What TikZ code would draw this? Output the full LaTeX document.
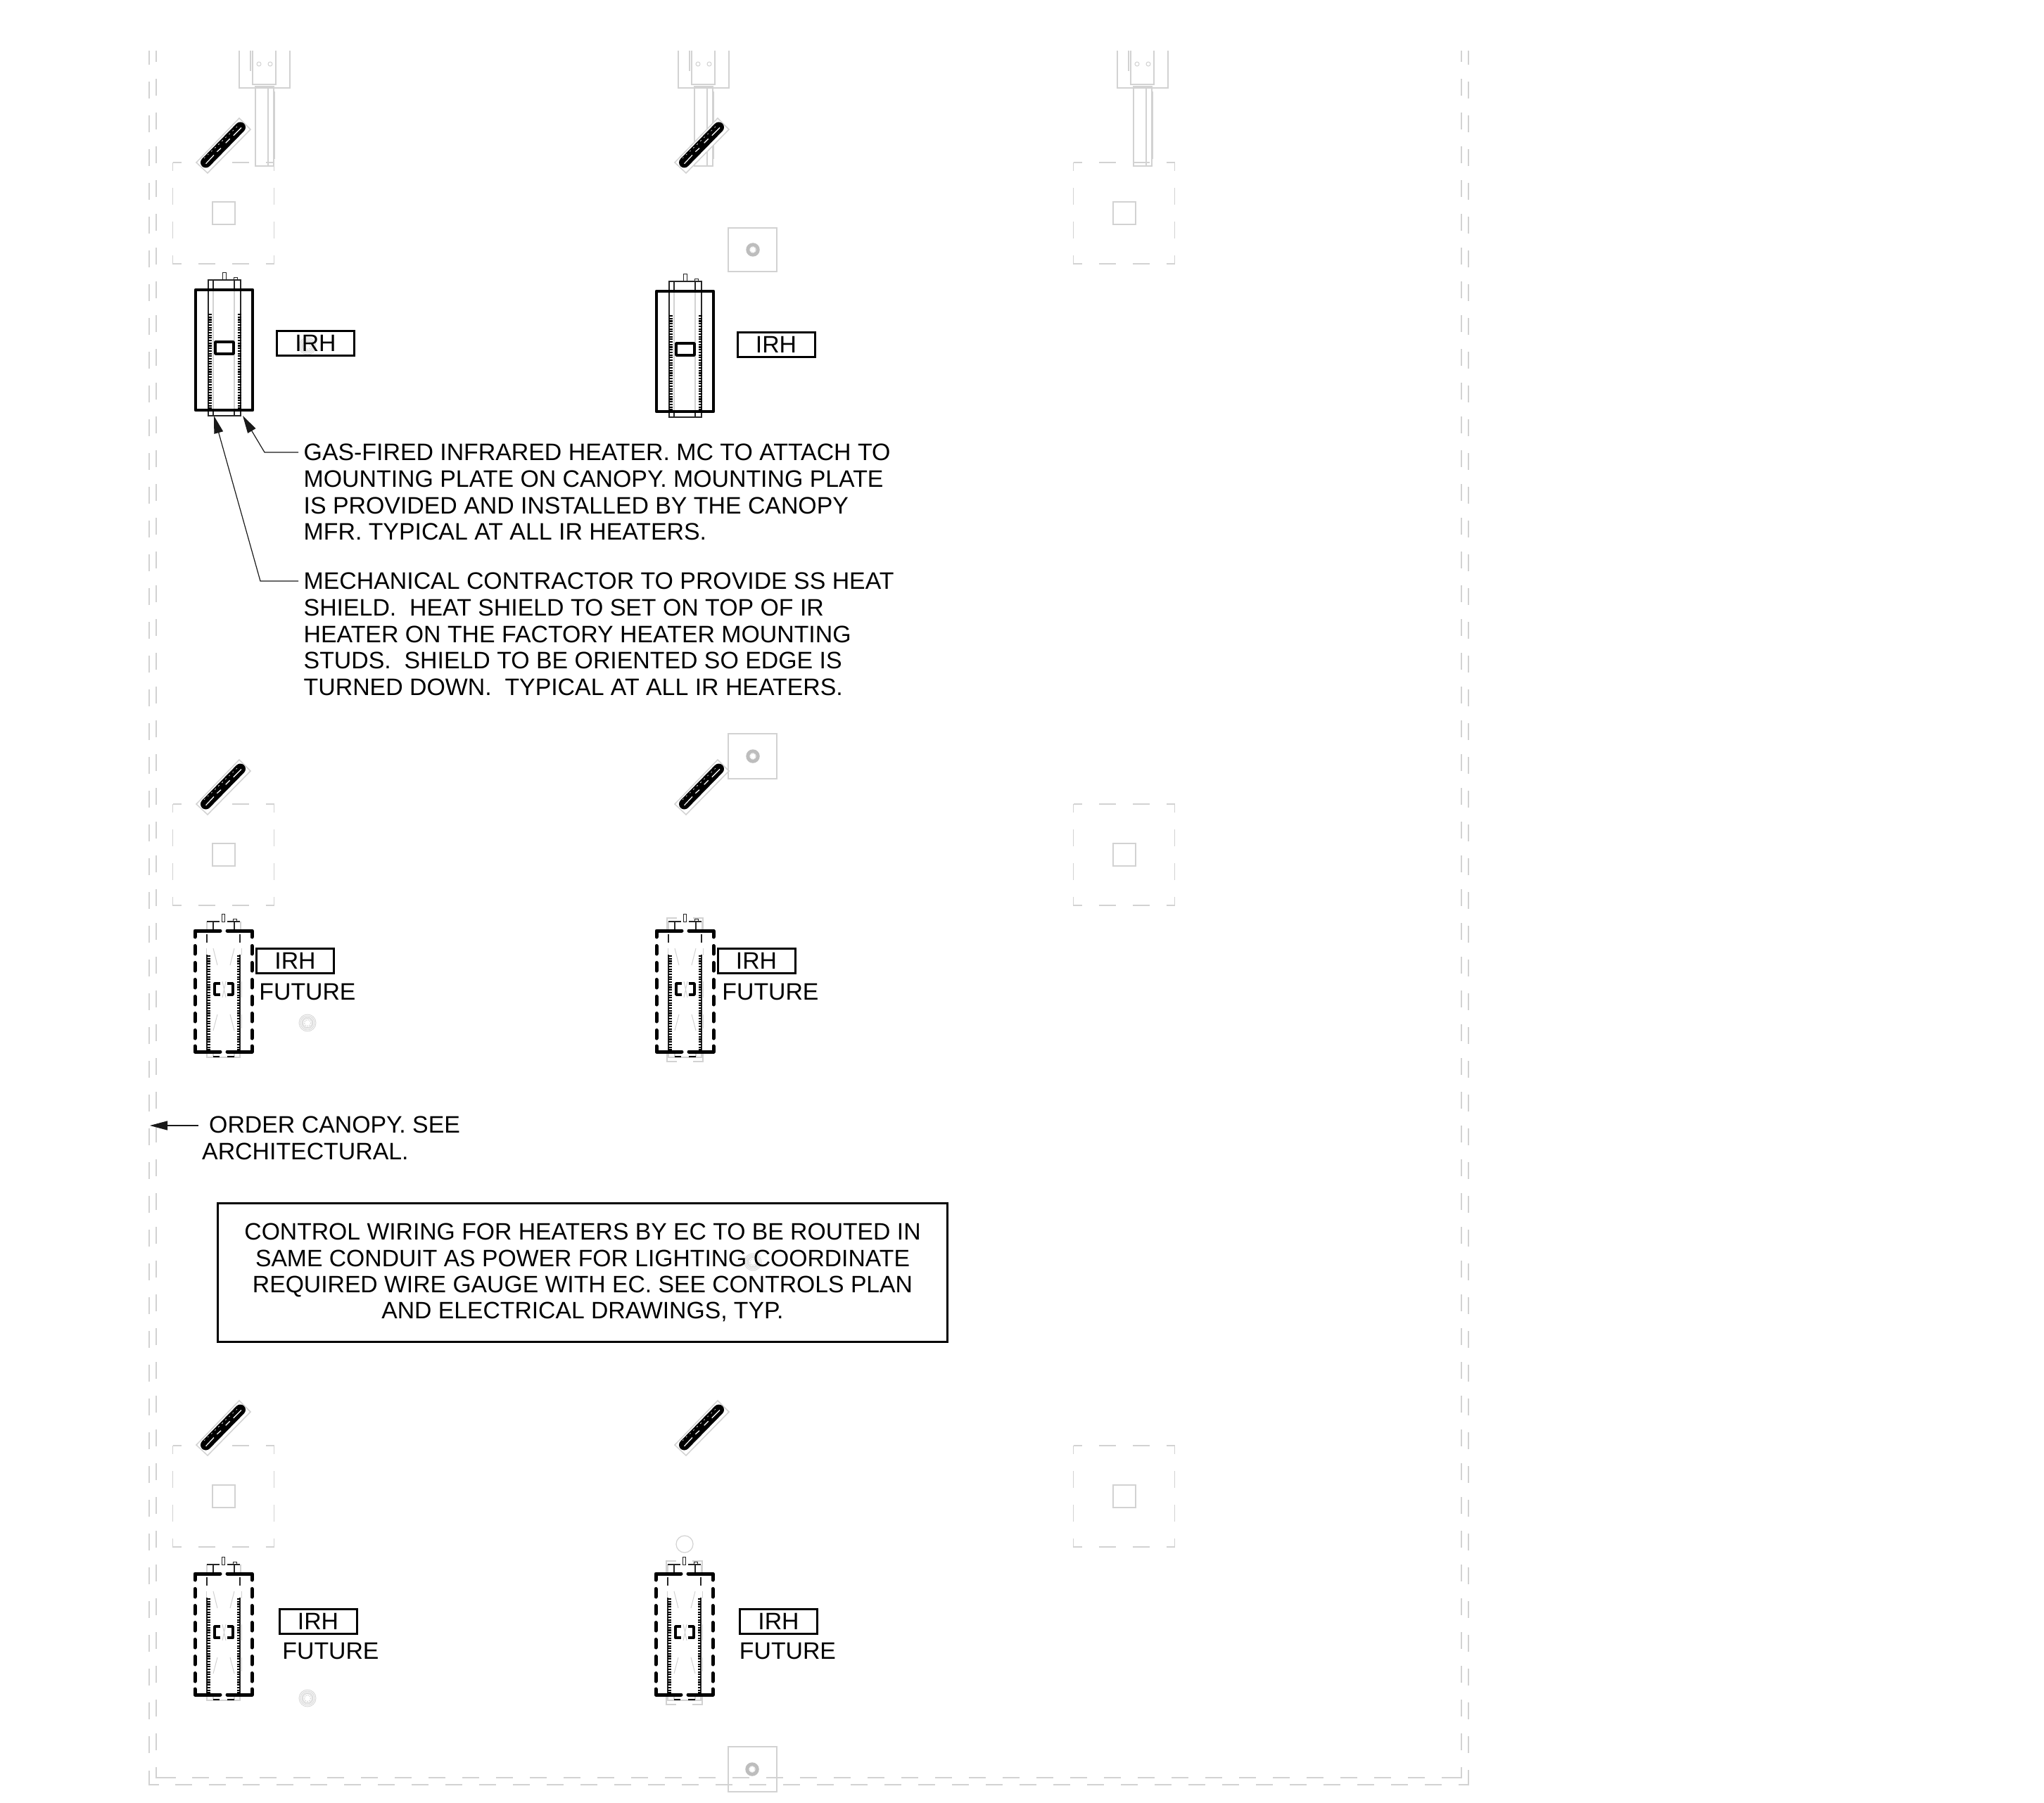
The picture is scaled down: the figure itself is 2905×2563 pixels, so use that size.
\documentclass[tikz,border=0pt]{standalone}
\usepackage{fontspec}
\setmainfont{Liberation Sans}
\usetikzlibrary{arrows.meta}
\definecolor{lg}{HTML}{D2D2D2}
\tikzset{
  x=1pt,y=-1pt,
  graythin/.style={draw=lg,line width=1.5pt},
  graydash/.style={draw=lg,line width=1.3pt,dash pattern=on 24pt off 24pt},
  piersq/.style={draw=lg,line width=1.3pt,dash pattern=on 24pt off 24pt,dash phase=12pt},
  innersq/.style={draw=lg,line width=2pt},
  heavy/.style={draw=black,line width=4.6pt,line join=round},
  heavydash/.style={draw=black,line width=5pt,line cap=round,line join=round},
  finebk/.style={draw=black!85,line width=1.1pt},
  hatchbk/.style={draw=black,line width=5pt,dash pattern=on 2.1pt off 1.6pt},
  leader/.style={draw=black!90,line width=1.2pt,-{Triangle[length=25pt,width=13pt]}},
  tagbox/.style={draw=black,line width=3pt,inner sep=0pt,minimum width=110pt,minimum height=35pt,font=\fontsize{33.8}{37.7}\selectfont},
  lbl/.style={inner sep=0pt,font=\fontsize{33.8}{37.7}\selectfont},
  noteblock/.style={inner sep=0pt,anchor=north west,align=left,font=\fontsize{33.85}{37.7}\selectfont},
  ctrblock/.style={inner sep=0pt,anchor=north,align=center,font=\fontsize{33.7}{37.4}\selectfont}
}
% slanted heater
\newcommand\slantheater[2]{\begin{scope}[shift={(#1,#2)}]
  \draw[graythin,fill=white] (279,231)--(340,168)--(356,184)--(295,246)--cycle;
  \draw[black,line width=15pt,line cap=round] (292.5,231)--(341.5,181);
  \draw[white,line width=1.2pt] (292.5,232.7)--(304,220.5) (308.3,215.7)--(314,210.7) (320.7,203.3)--(326.7,197.3) (331.7,192.7)--(343,181.5);
  \draw[white,line width=.6pt,dash pattern=on 2pt off 5pt] (290,225)--(338,179);
\end{scope}}
% canopy column at the top
\newcommand\topframe[1]{\begin{scope}[shift={(#1,0)}]
  \draw[graythin] (340,72)--(340,125)--(412,125)--(412,72);
  \draw[graythin] (359,72)--(359,120)--(392,120)--(392,72);
  \draw[graythin] (356,72)--(356,101);
  \draw[lg,line width=1pt] (368,91) circle (3) (384,91) circle (3);
  \draw[graythin] (363,123) rectangle (389,236);
  \draw[graythin] (381,123)--(381,236);
  \draw[graythin] (390,130)--(390,226);
\end{scope}}
% pier with dashed square
\newcommand\pier[2]{\begin{scope}[shift={(#1,#2)}]
  \draw[piersq] (245.5,231) rectangle (389.5,375);
  \draw[innersq] (302,287) rectangle (334,319);
\end{scope}}
% concentric grey target
\newcommand\bigtarget[2]{\begin{scope}[shift={(#1,#2)}]
  \foreach \r in {12,10,8,6.5}{\draw[lg,line width=.8pt] (0,0) circle (\r);}
  \draw[lg,line width=1pt,dash pattern=on 1.5pt off 1.5pt] (0,0) circle (4.5);
\end{scope}}
\newcommand\smalltarget[2]{\begin{scope}[shift={(#1,#2)}]
  \draw[lg!90!black,line width=5pt] (0,0) circle (7.2);
  \draw[lg,line width=.8pt,dash pattern=on 1.5pt off 1.5pt] (0,0) circle (4.2);
\end{scope}}
% solid heater
\newcommand\solidheater[2]{\begin{scope}[shift={(#1,#2)}]
  \draw[graythin] (303,398)--(303,591) (333,398)--(333,591);
  \draw[finebk] (296,398) rectangle (342,591);
  \draw[finebk] (303,398)--(303,412) (333,398)--(333,412) (303,583)--(303,591) (333,583)--(333,591);
  \draw[hatchbk] (298.5,446)--(298.5,582);
  \draw[hatchbk] (340,446)--(340,582);
  \draw[heavy] (278,412) rectangle (359,583);
  \draw[black,line width=3.5pt,line join=round] (306,486) rectangle (332,503);
  \draw[finebk,line width=.9pt] (316,387) rectangle (321,398);
  \draw[finebk,line width=.9pt] (332,394) rectangle (337,398);
\end{scope}}
% dashed (future) heater; #3 = grey outer corners
\newcommand\futureheater[3]{\begin{scope}[shift={(#1,#2)}]
  \draw[lg,line width=1pt] (303,1348)--(309,1372) (333,1348)--(327,1372) (303,1465)--(309,1442) (333,1465)--(327,1442)
     (316,1395)--(321,1418) (321,1395)--(316,1418);
  \draw[lg,line width=1pt] (343,1348)--(343,1358) (343,1395)--(343,1418) (343,1442)--(343,1462) (293,1348)--(293,1358) (293,1395)--(293,1418);
  \draw[lg,line width=1.2pt] (294,1310)--(294,1323) (342,1310)--(342,1323) (294,1495)--(294,1503)--(341,1503)--(341,1495) (303,1495)--(303,1503) (333,1495)--(333,1503);
  #3
  \draw[finebk] (294,1310)--(312,1310) (323,1310)--(341,1310);
  \draw[finebk] (303,1310)--(303,1323) (333,1310)--(333,1323);
  \draw[finebk] (294,1328)--(294,1340) (341,1328)--(341,1340);
  \draw[finebk] (294,1357)--(294,1493) (341,1357)--(341,1493);
  \draw[draw=black,line width=4.5pt,dash pattern=on 2.1pt off 1.6pt] (296.5,1358)--(296.5,1493);
  \draw[draw=black,line width=4.5pt,dash pattern=on 2.1pt off 1.6pt] (339,1358)--(339,1493);
  \draw[heavydash] (277,1332)--(277,1323)--(313,1323);
  \draw[heavydash] (323,1323)--(358,1323)--(358,1332);
  \draw[heavydash] (277,1487)--(277,1495)--(313,1495);
  \draw[heavydash] (323,1495)--(358,1495)--(358,1487);
  \draw[heavydash,dash pattern=on 11.5pt off 12.5pt] (277,1344.5)--(277,1478);
  \draw[heavydash,dash pattern=on 11.5pt off 12.5pt] (358,1344.5)--(358,1478);
  \draw[black,line width=3.8pt,line join=round] (313,1398)--(305,1398)--(305,1414)--(313,1414);
  \draw[black,line width=3.8pt,line join=round] (323,1398)--(331,1398)--(331,1414)--(323,1414);
  \draw[finebk,line width=.9pt] (315,1299) rectangle (319,1310);
  \draw[finebk,line width=.9pt] (331,1306) rectangle (336,1310);
  \draw[black,line width=1.6pt] (303,1502)--(312,1502) (323,1502)--(333,1502);
\end{scope}}
\newcommand\graycorners{\draw[lg,line width=1.3pt] (292,1323)--(292,1305)--(306,1305) (329,1305)--(343,1305)--(343,1323) (292,1495)--(292,1509)--(306,1509) (329,1509)--(343,1509)--(343,1495);}
\begin{document}
\begin{tikzpicture}
\useasboundingbox (0,0) rectangle (2905,2563);
\fill[white] (0,0) rectangle (2905,2563);
% canopy outline
\draw[graydash,dash phase=4pt] (212,72)--(212,2494);
\draw[graydash,dash phase=8pt] (222,72)--(222,2489);
\draw[graydash,dash phase=4pt] (2087,72)--(2087,2494);
\draw[graydash,dash phase=8pt] (2077,72)--(2077,2489);
\draw[graydash,dash pattern=on 24pt off 0pt] (212,2517)--(212,2537)--(226,2537);
\draw[graydash,dash pattern=on 24pt off 0pt] (222,2512)--(222,2527)--(250,2527);
\draw[graydash,dash pattern=on 24pt off 0pt] (2073,2537)--(2087,2537)--(2087,2516);
\draw[graydash,dash pattern=on 24pt off 0pt] (2049,2527)--(2077,2527)--(2077,2512);
\draw[graydash] (249,2537)--(2050,2537);
\draw[graydash] (273,2527)--(2026,2527);
% top frames
\topframe{0}\topframe{624}\topframe{1248}
% piers
\pier{0}{0}\pier{0}{912}\pier{0}{1824}
\pier{1280}{0}\pier{1280}{912}\pier{1280}{1824}
% target boxes
\draw[graythin] (1035,324) rectangle (1104,386);
\draw[graythin] (1035,1043) rectangle (1104,1107);
\draw[graythin] (1035,2483) rectangle (1104,2547);
\smalltarget{1070}{355}\smalltarget{1070}{1075}\smalltarget{1069}{2515}
\bigtarget{437}{492}\bigtarget{437}{1454}\bigtarget{437}{2414}\bigtarget{1070}{1794}
\draw[lg,line width=1.2pt] (973,2195) circle (12);
% slanted heaters
\slantheater{0}{0}\slantheater{680}{0}
\slantheater{0}{912}\slantheater{680}{912}
\slantheater{0}{1823}\slantheater{680}{1823}
% heaters
\solidheater{0}{0}\solidheater{655}{2}
\futureheater{0}{0}{}\futureheater{656}{0}{\graycorners}
\futureheater{0}{914}{}\futureheater{655}{914}{\graycorners}
% tags
\node[tagbox] (tag1) at (448.5,488) {IRH};
\node[tagbox] (tag2) at (1103,490) {IRH};
\node[tagbox] (tag3) at (419.5,1366) {IRH};
\node[tagbox] (tag4) at (1075,1366) {IRH};
\node[tagbox] (tag5) at (452,2305) {IRH};
\node[tagbox] (tag6) at (1106.5,2305) {IRH};
\node[lbl] (fut3) at (437,1410) {FUTURE};
\node[lbl] (fut4) at (1095,1410) {FUTURE};
\node[lbl] (fut5) at (470,2347) {FUTURE};
\node[lbl] (fut6) at (1119.5,2347) {FUTURE};
% notes
\node[noteblock] (noteA) at (431.5,631) {GAS-FIRED INFRARED HEATER. MC TO ATTACH TO\\MOUNTING PLATE ON CANOPY. MOUNTING PLATE\\IS PROVIDED AND INSTALLED BY THE CANOPY\\MFR. TYPICAL AT ALL IR HEATERS.};
\node[noteblock] (noteB) at (431.5,814) {MECHANICAL CONTRACTOR TO PROVIDE SS HEAT\\SHIELD.\ \ HEAT SHIELD TO SET ON TOP OF IR\\HEATER ON THE FACTORY HEATER MOUNTING\\STUDS.\ \ SHIELD TO BE ORIENTED SO EDGE IS\\TURNED DOWN.\ \ TYPICAL AT ALL IR HEATERS.};
\node[noteblock] (noteC) at (287,1587) {\hspace*{10pt}ORDER CANOPY. SEE\\ARCHITECTURAL.};
\node[draw=black,line width=3pt,minimum width=1037pt,minimum height=197pt,inner sep=0pt] (ctlbox) at (828,1808.5) {};
\node[ctrblock] (ctltext) at (828,1739) {CONTROL WIRING FOR HEATERS BY EC TO BE ROUTED IN\\SAME CONDUIT AS POWER FOR LIGHTING COORDINATE\\REQUIRED WIRE GAUGE WITH EC. SEE CONTROLS PLAN\\AND ELECTRICAL DRAWINGS, TYP.};
% leaders
\coordinate (a1) at (424,643); \coordinate (a2) at (376,643); \coordinate (a3) at (345,591);
\coordinate (b1) at (424,826); \coordinate (b2) at (370,826); \coordinate (b3) at (304,591);
\coordinate (c1) at (282,1600); \coordinate (c2) at (213,1600);
\draw[leader] (a1)--(a2)--(a3);
\draw[leader] (b1)--(b2)--(b3);
\draw[leader] (c1)--(c2);
\end{tikzpicture}
\end{document}
